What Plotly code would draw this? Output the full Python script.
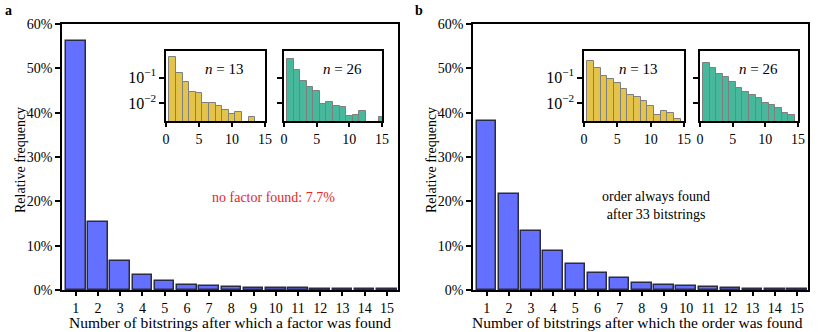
import plotly.graph_objects as go

W, H = 830, 332

# ---- data ----
bitstrings = list(range(1, 16))
factor_freq = [0.562, 0.153, 0.065, 0.034, 0.020, 0.012, 0.009, 0.007, 0.005,
               0.004, 0.0035, 0.003, 0.0025, 0.002, 0.002]
order_freq = [0.381, 0.216, 0.133, 0.089, 0.059, 0.038, 0.027, 0.0165, 0.012,
              0.009, 0.006, 0.0045, 0.003, 0.002, 0.0015]

inset_x = list(range(1, 16))
# log10 of relative frequency (None = no bar)
factor_n13_log = [-0.20, -0.83, -1.18, -1.55, -1.62, -1.98, -1.98, -2.13, -2.27,
                  -2.43, -2.35, None, -2.54, None, None]
factor_n26_log = [-0.27, -0.70, -1.13, -1.35, -1.52, -2.04, -1.96, -2.11, -2.16,
                  -2.50, -2.46, -2.29, None, None, -2.55]
order_n13_log = [-0.35, -0.63, -0.92, -1.05, -1.22, -1.45, -1.68, -1.77, -1.90,
                 -2.13, -2.46, -2.30, -2.37, -2.61, None]
order_n26_log = [-0.41, -0.61, -0.87, -0.96, -1.18, -1.41, -1.55, -1.68, -1.80,
                 -2.00, -2.07, -2.20, -2.37, -2.46, None]

main_yticks = [0, 0.1, 0.2, 0.3, 0.4, 0.5, 0.6]
inset_xticks = [0, 5, 10, 15]
inset_yticks = [0.1, 0.01]
inset_yticktext = ["10<sup>\u22121</sup>", "10<sup>\u22122</sup>"]

x_titles = ["Number of bitstrings after which a factor was found",
            "Number of bitstrings after which the order was found"]
y_title = "Relative frequency"


def unlog(vals):
    return [None if v is None else 10 ** v for v in vals]


FONT = "Liberation Serif"
FS = 14
BLUE = "#6470FF"
BLUE_EDGE = "#2B2B45"
YELLOW = "#E3C34A"
TEAL = "#47B89C"
GREY_EDGE = "#7F7F7F"


def px_x(x):
    return x / W


def px_y(y):
    return 1 - y / H


fig = go.Figure()

# main bars
fig.add_trace(go.Bar(x=bitstrings, y=factor_freq, width=0.88, marker=dict(
    color=BLUE, line=dict(color=BLUE_EDGE, width=1.5)), xaxis="x", yaxis="y"))
fig.add_trace(go.Bar(x=bitstrings, y=order_freq, width=0.88, marker=dict(
    color=BLUE, line=dict(color=BLUE_EDGE, width=1.5)), xaxis="x2", yaxis="y2"))

insets = [
    (factor_n13_log, YELLOW, "x3", "y3"),
    (factor_n26_log, TEAL, "x4", "y4"),
    (order_n13_log, YELLOW, "x5", "y5"),
    (order_n26_log, TEAL, "x6", "y6"),
]
for vals, col, xa, ya in insets:
    fig.add_trace(go.Bar(x=inset_x, y=unlog(vals), width=1.0, marker=dict(
        color=col, line=dict(color=GREY_EDGE, width=1)), xaxis=xa, yaxis=ya))

axis_common = dict(showline=True, linecolor="black", linewidth=1.5, mirror=True,
                   ticks="outside", tickcolor="black", tickwidth=1.5,
                   showgrid=False, zeroline=False, automargin=False,
                   tickfont=dict(family=FONT, size=FS, color="black"))

main_y_dom = [px_y(290), px_y(24)]
inset_y_dom = [px_y(121), px_y(51)]

layout = dict(
    width=W, height=H, margin=dict(l=0, r=0, t=0, b=0, autoexpand=False),
    paper_bgcolor="white", plot_bgcolor="rgba(0,0,0,0)",
    showlegend=False, bargap=0,
    font=dict(family=FONT, size=FS, color="black"),
)

main_x_dom = [[px_x(62), px_x(398)], [px_x(473), px_x(808)]]
for i in range(2):
    xs = "xaxis" if i == 0 else "xaxis2"
    ys = "yaxis" if i == 0 else "yaxis2"
    layout[xs] = dict(axis_common, domain=main_x_dom[i], range=[0.38, 15.5],
                      tickvals=bitstrings, ticklen=4, anchor="y" if i == 0 else "y2")
    layout[ys] = dict(axis_common, domain=main_y_dom, range=[0, 0.6],
                      tickvals=main_yticks, tickformat=".0%", ticklen=5,
                      anchor="x" if i == 0 else "x2")

inset_x_dom = [[px_x(166), px_x(265)], [px_x(284), px_x(382)],
               [px_x(584), px_x(684)], [px_x(700), px_x(798)]]
for k in range(4):
    n = k + 3
    layout[f"xaxis{n}"] = dict(axis_common, domain=inset_x_dom[k], range=[0, 15],
                               tickvals=inset_xticks, ticklen=4, anchor=f"y{n}")
    ydict = dict(axis_common, domain=inset_y_dom, type="log", range=[-2.7, 0.04],
                 tickvals=inset_yticks, ticklen=5, anchor=f"x{n}",
                 tickfont=dict(family=FONT, size=16, color="black"))
    if k % 2 == 0:
        ydict["ticktext"] = inset_yticktext
    else:
        ydict["showticklabels"] = False
    layout[f"yaxis{n}"] = ydict

fig.update_layout(**layout)

ann = []
# panel labels
ann.append(dict(x=px_x(3), y=px_y(11), text="<b>a</b>"))
ann.append(dict(x=px_x(413), y=px_y(11), text="<b>b</b>"))
# axis titles
ann.append(dict(x=px_x(230), y=px_y(322), text=x_titles[0], xanchor="center",
                font=dict(family=FONT, size=15.5, color="black")))
ann.append(dict(x=px_x(637), y=px_y(322), text=x_titles[1], xanchor="center",
                font=dict(family=FONT, size=15.5, color="black")))
ann.append(dict(x=px_x(20), y=px_y(160), text=y_title, xanchor="center", textangle=-90))
ann.append(dict(x=px_x(431), y=px_y(160), text=y_title, xanchor="center", textangle=-90))
# inset labels
for cx in [224, 342, 638, 758]:
    ann.append(dict(x=px_x(cx), y=px_y(69), text="<i>n</i> = 13" if cx in (224, 638) else "<i>n</i> = 26",
                    xanchor="center", font=dict(family=FONT, size=15, color="black")))
ann.append(dict(x=px_x(273), y=px_y(197), text="no factor found: 7.7%",
                xanchor="center", font=dict(family=FONT, size=FS, color="#E8261E")))
ann.append(dict(x=px_x(656), y=px_y(205), text="order always found<br>after 33 bitstrings",
                xanchor="center"))
for a in ann:
    a.setdefault("xanchor", "left")
    a.update(xref="paper", yref="paper", showarrow=False, yanchor="middle")
    a.setdefault("font", dict(family=FONT, size=FS, color="black"))
fig.update_layout(annotations=ann)

fig.write_html("out.html", config={"displayModeBar": False},
               post_script="document.body.style.margin='0';document.body.style.padding='0';")
